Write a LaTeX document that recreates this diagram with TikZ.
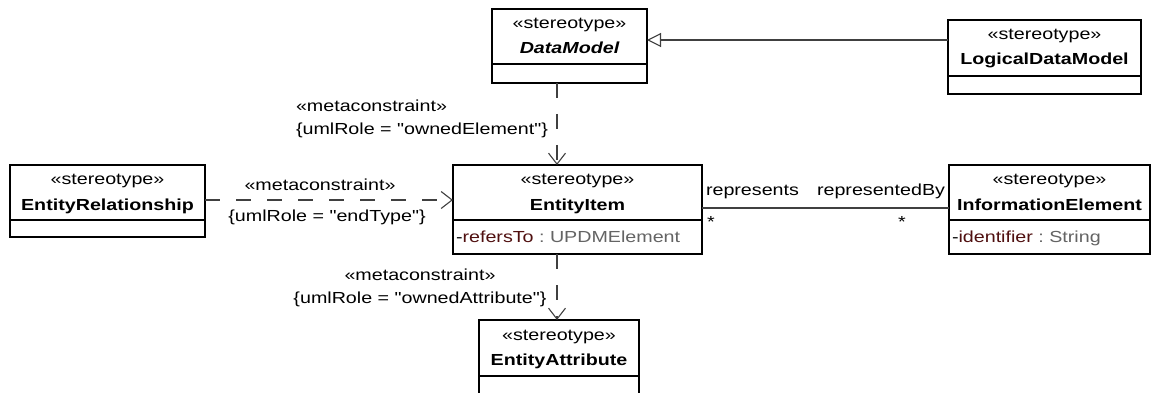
\documentclass[tikz,border=0pt]{standalone}
\usepackage{fontspec}
\setmainfont{Liberation Sans}[FakeStretch=1.23, Ligatures=TeXOff]
\usetikzlibrary{arrows.meta}
\definecolor{connc}{RGB}{64,64,64}
\definecolor{attrname}{RGB}{80,16,16}
\definecolor{attrtype}{RGB}{100,100,100}
\newcommand{\umlfont}{\fontsize{16pt}{20pt}\selectfont}
\begin{document}
\begin{tikzpicture}[x=1pt,y=-1pt,
  box/.style={draw=black, line width=1.6pt, inner sep=0pt, outer sep=0pt, fill=white, anchor=north west},
  divl/.style={draw=black, line width=1.6pt},
  txt/.style={inner sep=0pt, outer sep=0pt, font=\umlfont, anchor=base},
  nm/.style={txt, font=\umlfont\bfseries},
  lbl/.style={txt},
  conn/.style={draw=connc, line width=1.1pt},
  dep/.style={conn, dash pattern=on 15pt off 16pt, -{Straight Barb[length=11pt,width=17pt,line width=1.1pt]}},
  gen/.style={conn, -{Triangle[open,length=14pt,width=14pt,line width=1.1pt,fill=white]}}
]
\useasboundingbox (0,0) rectangle (1157,393);
\clip (0,0) rectangle (1157,393);

% DataModel
\node[box, minimum width=155, minimum height=74] (dm) at (492,9) {};
\draw[divl] (dm.west |- 0,64) -- (dm.east |- 0,64);
\node[txt] (dmst) at (569.5,29) {«stereotype»};
\node[txt, font=\umlfont\bfseries\itshape] (dmnm) at (569.5,54) {DataModel};

% LogicalDataModel
\node[box, minimum width=193, minimum height=74] (ldm) at (948,20) {};
\draw[divl] (ldm.west |- 0,76) -- (ldm.east |- 0,76);
\node[txt] (ldmst) at (1044.5,40) {«stereotype»};
\node[nm] (ldmnm) at (1044.5,65) {LogicalDataModel};

% EntityRelationship
\node[box, minimum width=195, minimum height=72] (er) at (10,165) {};
\draw[divl] (er.west |- 0,220) -- (er.east |- 0,220);
\node[txt] (erst) at (107.5,185) {«stereotype»};
\node[nm] (ernm) at (107.5,210) {EntityRelationship};

% EntityItem
\node[box, minimum width=249, minimum height=89] (ei) at (453,165) {};
\draw[divl] (ei.west |- 0,220) -- (ei.east |- 0,220);
\node[txt] (eist) at (577.5,185) {«stereotype»};
\node[nm] (einm) at (577.5,210) {EntityItem};
\node[txt, anchor=base west] (eiat) at (456,242) {-\textcolor{attrname}{refersTo}\textcolor{attrtype}{\ :\ UPDMElement}};

% InformationElement
\node[box, minimum width=201, minimum height=89] (ie) at (949,165) {};
\draw[divl] (ie.west |- 0,220) -- (ie.east |- 0,220);
\node[txt] (iest) at (1049.5,185) {«stereotype»};
\node[nm] (ienm) at (1049.5,210) {InformationElement};
\node[txt, anchor=base west] (ieat) at (952,242) {-\textcolor{attrname}{identifier}\textcolor{attrtype}{\ :\ String}};

% EntityAttribute
\node[box, minimum width=160, minimum height=85] (ea) at (479,320) {};
\draw[divl] (ea.west |- 0,376) -- (ea.east |- 0,376);
\node[txt] (east) at (559,340) {«stereotype»};
\node[nm] (eanm) at (559,365) {EntityAttribute};

% connectors
\draw[gen] (ldm.west |- 0,40) -- (dm.east |- 0,40);
\draw[dep] (dm.south -| 557,0) -- (ei.north -| 557,0);
\draw[dep] (er.east |- 0,200) -- (ei.west |- 0,200);
\draw[conn] (ei.east |- 0,208) -- (ie.west |- 0,208);
\draw[dep] (ei.south -| 557,0) -- (ea.north -| 557,0);

% labels
\node[lbl, anchor=base west] (l1a) at (296,112) {«metaconstraint»};
\node[lbl, anchor=base west] (l1b) at (296,135) {\{umlRole = "ownedElement"\}};
\node[lbl] (l2a) at (320,190) {«metaconstraint»};
\node[lbl] (l2b) at (327,222) {\{umlRole = "endType"\}};
\node[lbl] (l3a) at (420,280) {«metaconstraint»};
\node[lbl] (l3b) at (420,303) {\{umlRole = "ownedAttribute"\}};
\node[lbl, anchor=base west] (r1) at (706,195) {represents};
\node[lbl, anchor=base east] (r2) at (945,195) {representedBy};
\node[lbl, anchor=base west] (m1) at (707,227) {*};
\node[lbl, anchor=base west] (m2) at (898,227) {*};
\end{tikzpicture}
\end{document}
